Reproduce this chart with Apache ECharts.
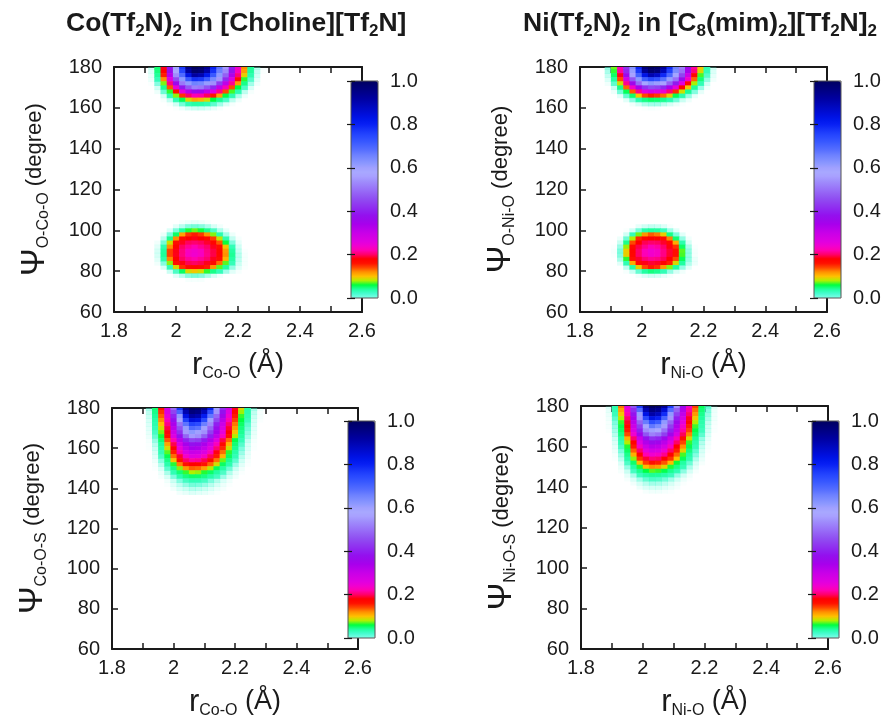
<!DOCTYPE html>
<html><head><meta charset="utf-8">
<script src="https://cdn.jsdelivr.net/npm/echarts@6/dist/echarts.min.js"></script>
<style>html,body{margin:0;padding:0;background:#fff}#c{width:890px;height:720px}</style>
</head><body><div id="c"></div>
<script>
// ---- axis ticks ----
const xTicks = [1.8, 2.0, 2.2, 2.4, 2.6];
const yTicks = [60, 80, 100, 120, 140, 160, 180];
const cbTicks = [0.0, 0.2, 0.4, 0.6, 0.8, 1.0];
const cellDX = 0.02, cellDY = 2;

// ---- Co(Tf2N)2, O-Co-O : peak at 180 deg (columns from x0 step 0.02, rows from y0 step -2)
const coOO_peak180 = { x0: 1.90, y0: 180, rows: [
[0,0.008,0.05,0.185,0.385,0.595,0.77,0.95,1.0,0.99,0.94,0.8,0.675,0.55,0.395,0.235,0.122,0.043,0.012,0.001,0],
[0,0.007,0.047,0.177,0.367,0.58,0.75,0.92,0.985,0.975,0.91,0.78,0.66,0.53,0.38,0.228,0.115,0.041,0.011,0.001,0],
[0,0.005,0.041,0.155,0.32,0.535,0.69,0.83,0.92,0.9,0.82,0.72,0.62,0.48,0.33,0.205,0.094,0.034,0.009,0,0],
[0,0.004,0.03,0.12,0.26,0.455,0.62,0.72,0.78,0.77,0.715,0.645,0.545,0.415,0.27,0.163,0.065,0.026,0.006,0,0],
[0,0.001,0.02,0.074,0.208,0.36,0.51,0.615,0.655,0.645,0.61,0.54,0.435,0.31,0.213,0.115,0.045,0.016,0.003,0,0],
[0,0,0.009,0.043,0.137,0.25,0.39,0.47,0.52,0.51,0.465,0.41,0.305,0.225,0.14,0.06,0.027,0.007,0,0,0],
[0,0,0.004,0.023,0.065,0.163,0.25,0.32,0.365,0.355,0.31,0.26,0.21,0.14,0.068,0.033,0.012,0.002,0,0,0],
[0,0,0,0.008,0.032,0.076,0.147,0.2,0.222,0.217,0.198,0.158,0.112,0.059,0.033,0.015,0.004,0,0,0,0],
[0,0,0,0.002,0.011,0.032,0.056,0.09,0.11,0.105,0.088,0.06,0.043,0.027,0.012,0.004,0,0,0,0,0],
[0,0,0,0,0.002,0.009,0.022,0.032,0.038,0.037,0.032,0.025,0.016,0.007,0.002,0,0,0,0,0,0],
[0,0,0,0,0,0.001,0.004,0.008,0.01,0.01,0.008,0.005,0.002,0,0,0,0,0,0,0,0]
]};
// ---- Co(Tf2N)2, O-Co-O : peak near 90 deg
const coOO_peak90 = { x0: 1.92, y0: 104, rows: [
[0,0,0,0,0,0.002,0.004,0.005,0.004,0.002,0,0,0,0,0,0,0],
[0,0,0,0,0.006,0.013,0.02,0.022,0.02,0.015,0.008,0.003,0,0,0,0,0],
[0,0,0,0.007,0.021,0.04,0.063,0.072,0.062,0.043,0.027,0.014,0.005,0,0,0,0],
[0,0,0.004,0.021,0.052,0.112,0.147,0.156,0.146,0.119,0.075,0.035,0.016,0.004,0,0,0],
[0,0,0.012,0.043,0.12,0.167,0.18,0.184,0.18,0.17,0.145,0.085,0.033,0.011,0.002,0,0],
[0,0.003,0.022,0.086,0.165,0.186,0.198,0.202,0.198,0.189,0.174,0.136,0.061,0.021,0.005,0,0],
[0,0.006,0.033,0.12,0.178,0.199,0.213,0.222,0.212,0.201,0.186,0.165,0.097,0.031,0.009,0,0],
[0,0.008,0.04,0.143,0.184,0.206,0.23,0.237,0.23,0.208,0.193,0.172,0.116,0.039,0.011,0.001,0],
[0,0.008,0.041,0.143,0.185,0.207,0.232,0.239,0.231,0.21,0.194,0.173,0.119,0.042,0.013,0.002,0],
[0,0.006,0.034,0.123,0.178,0.199,0.214,0.22,0.213,0.202,0.186,0.165,0.105,0.038,0.012,0.002,0],
[0,0.003,0.02,0.076,0.161,0.183,0.196,0.199,0.195,0.185,0.17,0.13,0.07,0.03,0.01,0.002,0],
[0,0,0.008,0.031,0.09,0.151,0.17,0.173,0.169,0.157,0.118,0.07,0.04,0.018,0.006,0.001,0],
[0,0,0,0.01,0.027,0.053,0.09,0.097,0.088,0.065,0.045,0.03,0.016,0.006,0.002,0,0],
[0,0,0,0,0.006,0.013,0.02,0.022,0.02,0.015,0.008,0.003,0,0,0,0,0],
[0,0,0,0,0,0,0.002,0.002,0.002,0,0,0,0,0,0,0,0]
]};
// ---- Ni(Tf2N)2, O-Ni-O : peak at 180 deg
const niOO_peak180 = { x0: 1.87, y0: 180, rows: [
[0,0.017,0.073,0.223,0.425,0.63,0.795,0.965,1.0,0.987,0.925,0.785,0.655,0.515,0.355,0.215,0.098,0.033,0.008,0,0],
[0,0.015,0.065,0.215,0.41,0.61,0.77,0.935,0.982,0.97,0.89,0.76,0.64,0.5,0.34,0.205,0.09,0.031,0.007,0,0],
[0,0.011,0.052,0.185,0.36,0.56,0.705,0.83,0.9,0.87,0.79,0.695,0.59,0.445,0.29,0.172,0.068,0.026,0.005,0,0],
[0,0.007,0.04,0.14,0.28,0.465,0.62,0.71,0.75,0.73,0.68,0.61,0.5,0.37,0.237,0.133,0.049,0.018,0.003,0,0],
[0,0.003,0.025,0.087,0.212,0.355,0.49,0.585,0.62,0.605,0.563,0.48,0.39,0.26,0.17,0.079,0.032,0.009,0,0,0],
[0,0,0.011,0.045,0.132,0.236,0.342,0.425,0.455,0.445,0.41,0.335,0.25,0.175,0.097,0.042,0.017,0.003,0,0,0],
[0,0,0.004,0.022,0.056,0.136,0.21,0.256,0.28,0.27,0.246,0.205,0.15,0.087,0.043,0.02,0.005,0,0,0,0],
[0,0,0,0.006,0.024,0.051,0.098,0.14,0.155,0.147,0.13,0.094,0.056,0.035,0.018,0.005,0,0,0,0,0],
[0,0,0,0,0.006,0.019,0.034,0.046,0.052,0.05,0.044,0.033,0.022,0.01,0.004,0,0,0,0,0,0],
[0,0,0,0,0,0.003,0.008,0.014,0.016,0.016,0.012,0.008,0.004,0.001,0,0,0,0,0,0,0],
[0,0,0,0,0,0,0,0.001,0.002,0.001,0,0,0,0,0,0,0,0,0,0,0]
]};
// ---- Ni(Tf2N)2, O-Ni-O : peak near 90 deg
const niOO_peak90 = { x0: 1.89, y0: 102, rows: [
[0,0,0,0,0,0.005,0.009,0.011,0.01,0.007,0.002,0,0,0,0,0,0],
[0,0,0,0.001,0.009,0.022,0.036,0.041,0.039,0.029,0.016,0.006,0,0,0,0,0],
[0,0,0,0.009,0.03,0.073,0.118,0.135,0.126,0.095,0.046,0.021,0.006,0,0,0,0],
[0,0,0.004,0.023,0.08,0.153,0.174,0.18,0.177,0.167,0.123,0.05,0.018,0.003,0,0,0],
[0,0,0.01,0.044,0.14,0.18,0.196,0.201,0.199,0.188,0.169,0.109,0.034,0.008,0,0,0],
[0,0.001,0.017,0.077,0.167,0.194,0.21,0.224,0.216,0.201,0.183,0.148,0.052,0.015,0.001,0,0],
[0,0.002,0.021,0.096,0.174,0.2,0.226,0.239,0.232,0.208,0.19,0.162,0.07,0.018,0.002,0,0],
[0,0.001,0.02,0.094,0.173,0.2,0.224,0.237,0.231,0.208,0.189,0.162,0.068,0.018,0.002,0,0],
[0,0,0.015,0.065,0.163,0.189,0.204,0.212,0.208,0.197,0.179,0.14,0.055,0.018,0.004,0,0],
[0,0,0.006,0.032,0.109,0.168,0.184,0.19,0.187,0.177,0.155,0.09,0.04,0.014,0.004,0,0],
[0,0,0,0.012,0.038,0.095,0.141,0.158,0.149,0.118,0.075,0.04,0.018,0.006,0,0,0],
[0,0,0,0.002,0.01,0.024,0.039,0.047,0.043,0.031,0.018,0.008,0.003,0,0,0,0],
[0,0,0,0,0,0.003,0.007,0.009,0.008,0.005,0.002,0,0,0,0,0,0]
]};
// ---- Co(Tf2N)2, Co-O-S
const coOS_peak = { x0: 1.90, y0: 180, rows: [
[0.001,0.014,0.05,0.16,0.29,0.49,0.775,0.955,1.0,0.99,0.945,0.81,0.6,0.415,0.285,0.185,0.092,0.038,0.014,0.003,0],
[0,0.012,0.045,0.147,0.27,0.445,0.7,0.9,0.965,0.952,0.885,0.735,0.545,0.38,0.26,0.17,0.078,0.035,0.012,0.002,0],
[0,0.01,0.041,0.134,0.248,0.405,0.615,0.835,0.915,0.9,0.81,0.67,0.49,0.35,0.24,0.156,0.066,0.032,0.01,0.002,0],
[0,0.008,0.037,0.12,0.23,0.375,0.57,0.76,0.845,0.83,0.745,0.6,0.45,0.32,0.222,0.143,0.06,0.029,0.008,0.001,0],
[0,0.007,0.034,0.1,0.21,0.335,0.5,0.675,0.755,0.74,0.66,0.53,0.4,0.295,0.203,0.127,0.052,0.025,0.007,0,0],
[0,0.006,0.03,0.087,0.195,0.315,0.46,0.61,0.69,0.675,0.595,0.485,0.37,0.275,0.19,0.115,0.047,0.022,0.006,0,0],
[0,0.005,0.028,0.073,0.183,0.29,0.42,0.55,0.62,0.6,0.54,0.44,0.34,0.252,0.177,0.098,0.043,0.019,0.005,0,0],
[0,0.004,0.024,0.062,0.165,0.265,0.375,0.485,0.55,0.535,0.475,0.395,0.31,0.23,0.16,0.08,0.038,0.016,0.004,0,0],
[0,0.002,0.018,0.05,0.137,0.222,0.317,0.4,0.445,0.435,0.39,0.33,0.262,0.195,0.13,0.058,0.031,0.011,0.002,0,0],
[0,0.001,0.013,0.041,0.112,0.195,0.277,0.342,0.38,0.37,0.335,0.29,0.228,0.17,0.105,0.049,0.026,0.008,0.001,0,0],
[0,0.001,0.01,0.036,0.09,0.178,0.247,0.31,0.34,0.332,0.305,0.26,0.205,0.152,0.085,0.043,0.021,0.007,0.001,0,0],
[0,0,0.008,0.031,0.07,0.155,0.218,0.273,0.3,0.294,0.268,0.227,0.183,0.13,0.065,0.037,0.017,0.005,0,0,0],
[0,0,0.006,0.027,0.056,0.13,0.19,0.235,0.26,0.255,0.232,0.198,0.157,0.105,0.054,0.031,0.013,0.004,0,0,0],
[0,0,0.004,0.019,0.045,0.097,0.16,0.2,0.217,0.213,0.196,0.168,0.128,0.072,0.043,0.025,0.009,0.002,0,0,0],
[0,0,0.002,0.013,0.035,0.064,0.125,0.162,0.18,0.176,0.159,0.132,0.088,0.053,0.034,0.017,0.006,0.001,0,0,0],
[0,0,0.001,0.007,0.025,0.045,0.075,0.117,0.134,0.13,0.113,0.082,0.055,0.038,0.023,0.01,0.003,0,0,0,0],
[0,0,0,0.004,0.015,0.032,0.049,0.066,0.08,0.077,0.064,0.052,0.039,0.027,0.014,0.005,0.001,0,0,0,0],
[0,0,0,0.002,0.008,0.021,0.035,0.047,0.052,0.051,0.046,0.037,0.028,0.017,0.008,0.003,0,0,0,0,0],
[0,0,0,0,0.003,0.01,0.02,0.028,0.032,0.031,0.028,0.021,0.014,0.007,0.003,0,0,0,0,0,0],
[0,0,0,0,0.001,0.006,0.012,0.018,0.022,0.021,0.018,0.013,0.008,0.004,0.001,0,0,0,0,0,0],
[0,0,0,0,0,0.003,0.007,0.01,0.013,0.012,0.01,0.007,0.004,0.002,0,0,0,0,0,0,0],
[0,0,0,0,0,0,0.003,0.005,0.007,0.006,0.005,0.003,0.001,0,0,0,0,0,0,0,0]
]};
// ---- Ni(Tf2N)2, Ni-O-S
const niOS_peak = { x0: 1.87, y0: 180, rows: [
[0,0.006,0.035,0.128,0.262,0.46,0.765,0.958,1.0,0.987,0.93,0.765,0.54,0.36,0.237,0.144,0.055,0.024,0.005,0,0],
[0,0.005,0.032,0.112,0.24,0.415,0.685,0.9,0.96,0.942,0.855,0.685,0.482,0.33,0.216,0.129,0.049,0.02,0.004,0,0],
[0,0.004,0.029,0.097,0.222,0.382,0.61,0.83,0.91,0.882,0.785,0.615,0.44,0.307,0.202,0.116,0.044,0.018,0.003,0,0],
[0,0.003,0.025,0.08,0.203,0.345,0.545,0.745,0.83,0.8,0.7,0.548,0.397,0.281,0.187,0.097,0.04,0.015,0.003,0,0],
[0,0.002,0.021,0.066,0.188,0.315,0.482,0.665,0.74,0.715,0.615,0.485,0.357,0.254,0.17,0.08,0.035,0.012,0.002,0,0],
[0,0.002,0.018,0.057,0.173,0.292,0.435,0.585,0.67,0.64,0.555,0.437,0.327,0.233,0.154,0.067,0.032,0.01,0.001,0,0],
[0,0.001,0.016,0.053,0.158,0.27,0.4,0.535,0.6,0.575,0.5,0.4,0.307,0.217,0.142,0.059,0.029,0.009,0.001,0,0],
[0,0,0.013,0.046,0.14,0.24,0.353,0.465,0.52,0.5,0.437,0.355,0.274,0.197,0.123,0.051,0.025,0.007,0,0,0],
[0,0,0.009,0.037,0.108,0.201,0.297,0.38,0.42,0.405,0.358,0.298,0.227,0.164,0.088,0.041,0.018,0.005,0,0,0],
[0,0,0.007,0.031,0.082,0.179,0.26,0.328,0.36,0.348,0.315,0.261,0.2,0.142,0.066,0.035,0.014,0.003,0,0,0],
[0,0,0.005,0.027,0.064,0.157,0.229,0.293,0.32,0.31,0.279,0.23,0.18,0.12,0.056,0.03,0.011,0.002,0,0,0],
[0,0,0.004,0.021,0.053,0.134,0.2,0.254,0.28,0.271,0.241,0.201,0.155,0.093,0.047,0.025,0.008,0.001,0,0,0],
[0,0,0.002,0.016,0.044,0.108,0.177,0.22,0.24,0.233,0.21,0.178,0.131,0.068,0.039,0.02,0.006,0,0,0,0],
[0,0,0.001,0.012,0.036,0.076,0.147,0.19,0.205,0.2,0.181,0.148,0.1,0.055,0.032,0.014,0.004,0,0,0,0],
[0,0,0,0.007,0.027,0.051,0.102,0.145,0.16,0.155,0.137,0.103,0.061,0.039,0.023,0.008,0.002,0,0,0,0],
[0,0,0,0.004,0.018,0.038,0.064,0.103,0.12,0.114,0.092,0.064,0.045,0.03,0.015,0.005,0,0,0,0,0],
[0,0,0,0.002,0.01,0.028,0.044,0.06,0.07,0.066,0.057,0.044,0.032,0.019,0.008,0.002,0,0,0,0,0],
[0,0,0,0,0.005,0.015,0.029,0.038,0.042,0.041,0.036,0.029,0.018,0.009,0.003,0,0,0,0,0,0],
[0,0,0,0,0.002,0.007,0.016,0.024,0.027,0.026,0.022,0.016,0.009,0.004,0.001,0,0,0,0,0,0],
[0,0,0,0,0,0.003,0.008,0.013,0.016,0.015,0.012,0.008,0.004,0.001,0,0,0,0,0,0,0],
[0,0,0,0,0,0,0.004,0.007,0.008,0.008,0.006,0.004,0.002,0,0,0,0,0,0,0,0],
[0,0,0,0,0,0,0,0.002,0.003,0.003,0.002,0.001,0,0,0,0,0,0,0,0,0]
]};

// ---- colour map (evenly spaced from 0 to 1) ----
const cmap = ['#80ffe8','#48fcd0','#20ffa0','#00ff40','#b0f000','#ffc000','#ff9000','#ff4800','#ff1000','#ff0000',
'#ff0068','#ff00b0','#f000d0','#e000e0','#d400e4','#c800e8','#b800ea','#a800ec','#9c08ec','#9410ee',
'#9020f0','#9030f0','#9040f0','#9050f2','#9460f4','#9870f8','#9c80fa','#a090fc','#a8a0ff','#a8a8ff',
'#a0a0ff','#8c98ff','#7c8cff','#6c80ff','#5870ff','#4864ff','#3858ff','#2c4cff','#2040fc','#1430f8',
'#0820f4','#0018ec','#0010e0','#000cd0','#0008c0','#0004b0','#0000a0','#000090','#000080','#000070','#000060'];

const FONT = '"Liberation Sans", Arial, sans-serif';
const INK = '#1a1a1a';

function blockToData(b) {
  const out = [];
  b.rows.forEach((row, r) => {
    row.forEach((v, c) => {
      if (v > 0) out.push([+(b.x0 + c * cellDX).toFixed(3), b.y0 - r * cellDY, v]);
    });
  });
  return out;
}

const panels = [
  { grid: {left: 114, top: 67, width: 248, height: 245}, cb: {left: 351, top: 81, width: 27, height: 217},
    blocks: [coOO_peak180, coOO_peak90], xSub: 'Co-O', ySub: 'O-Co-O' },
  { grid: {left: 580, top: 67, width: 247, height: 245}, cb: {left: 814, top: 81, width: 27, height: 217},
    blocks: [niOO_peak180, niOO_peak90], xSub: 'Ni-O', ySub: 'O-Ni-O' },
  { grid: {left: 112, top: 408, width: 246, height: 245}, cb: {left: 348, top: 421, width: 27, height: 217},
    blocks: [coOS_peak], xSub: 'Co-O', ySub: 'Co-O-S' },
  { grid: {left: 581, top: 406, width: 247, height: 246}, cb: {left: 812, top: 421, width: 27, height: 217},
    blocks: [niOS_peak], xSub: 'Ni-O', ySub: 'Ni-O-S' }
];

const grid = [], xAxis = [], yAxis = [], series = [], visualMap = [];
const tickLine = {color: INK, width: 1.5};
const xRich = { r: {fontSize: 31, lineHeight: 34, color: INK, fontFamily: FONT},
  m: {fontSize: 27, lineHeight: 34, color: INK, fontFamily: FONT},
  s: {fontSize: 16, lineHeight: 16, verticalAlign: 'bottom', color: INK, fontFamily: FONT} };
const yRich = { p: {fontSize: 33, lineHeight: 34, color: INK, fontFamily: FONT},
  d: {fontSize: 22, lineHeight: 34, color: INK, fontFamily: FONT},
  s: {fontSize: 16, lineHeight: 16, verticalAlign: 'bottom', color: INK, fontFamily: FONT} };
const fmtX = v => String(Math.round(v * 10) / 10);

panels.forEach((p, i) => {
  const g = grid.length;
  grid.push(Object.assign({containLabel: false}, p.grid));
  const xb = xAxis.length;
  xAxis.push({ gridIndex: g, type: 'value', position: 'bottom', min: xTicks[0], max: xTicks[xTicks.length-1],
    interval: xTicks[1] - xTicks[0],
    axisLine: {onZero: false, lineStyle: {color: INK, width: 2}},
    axisTick: {inside: true, length: 6, lineStyle: tickLine},
    minorTick: {show: true, splitNumber: 2, length: 6, lineStyle: tickLine},
    splitLine: {show: false},
    axisLabel: {fontSize: 20, margin: 9, color: INK, fontFamily: FONT, formatter: fmtX},
    name: '{r|r}{s|' + p.xSub + '}{m| (Å)}', nameLocation: 'middle', nameGap: 36,
    nameTextStyle: {rich: xRich} });
  xAxis.push({ gridIndex: g, type: 'value', position: 'top', min: xTicks[0], max: xTicks[xTicks.length-1],
    interval: xTicks[1] - xTicks[0],
    axisLine: {onZero: false, lineStyle: {color: INK, width: 2}},
    axisTick: {inside: true, length: 6, lineStyle: tickLine},
    minorTick: {show: true, splitNumber: 2, length: 6, lineStyle: tickLine},
    splitLine: {show: false}, axisLabel: {show: false} });
  const yl = yAxis.length;
  yAxis.push({ gridIndex: g, type: 'value', position: 'left', min: yTicks[0], max: yTicks[yTicks.length-1],
    interval: yTicks[1] - yTicks[0],
    axisLine: {onZero: false, lineStyle: {color: INK, width: 2}},
    axisTick: {inside: true, length: 6, lineStyle: tickLine},
    splitLine: {show: false},
    axisLabel: {fontSize: 20, margin: 12, color: INK, fontFamily: FONT},
    name: '{p|Ψ}{s|' + p.ySub + '}{d| (degree)}', nameLocation: 'middle', nameRotate: 90, nameGap: 62,
    nameTextStyle: {rich: yRich} });
  yAxis.push({ gridIndex: g, type: 'value', position: 'right', min: yTicks[0], max: yTicks[yTicks.length-1],
    interval: yTicks[1] - yTicks[0],
    axisLine: {onZero: false, lineStyle: {color: INK, width: 2}},
    axisTick: {inside: true, length: 6, lineStyle: tickLine},
    splitLine: {show: false}, axisLabel: {show: false} });

  // colour bar frame + ticks
  const gc = grid.length;
  grid.push(Object.assign({show: true, borderColor: '#555', borderWidth: 1, backgroundColor: 'transparent', z: 6}, p.cb));
  xAxis.push({ gridIndex: gc, type: 'value', show: false, min: 0, max: 1 });
  yAxis.push({ gridIndex: gc, type: 'value', position: 'right', min: cbTicks[0], max: cbTicks[cbTicks.length-1],
    interval: cbTicks[1] - cbTicks[0], z: 6,
    axisLine: {show: false}, splitLine: {show: false},
    axisTick: {inside: true, length: 4, lineStyle: {color: INK, width: 1.2}},
    axisLabel: {fontSize: 20, margin: 12, color: INK, fontFamily: FONT, formatter: v => v.toFixed(1)} });
  yAxis.push({ gridIndex: gc, type: 'value', position: 'left', min: cbTicks[0], max: cbTicks[cbTicks.length-1],
    interval: cbTicks[1] - cbTicks[0], z: 6,
    axisLine: {show: false}, splitLine: {show: false},
    axisTick: {inside: true, length: 4, lineStyle: {color: INK, width: 1.2}},
    axisLabel: {show: false} });

  const data = [];
  p.blocks.forEach(b => data.push(...blockToData(b)));
  series.push({
    type: 'custom', xAxisIndex: xb, yAxisIndex: yl, clip: true,
    encode: {x: 0, y: 1}, data: data,
    renderItem: (params, api) => {
      const x = api.value(0), y = api.value(1), v = api.value(2);
      const a = api.coord([x - cellDX / 2, y + cellDY / 2]);
      const b = api.coord([x + cellDX / 2, y - cellDY / 2]);
      return { type: 'rect',
        shape: {x: a[0], y: a[1], width: b[0] - a[0] + 0.6, height: b[1] - a[1] + 0.6},
        style: {fill: api.visual('color'), opacity: Math.min(1, v / 0.03)} };
    }
  });
  visualMap.push({ type: 'continuous', seriesIndex: i, dimension: 2, min: 0, max: 1,
    left: p.cb.left, top: p.cb.top, itemWidth: p.cb.width, itemHeight: p.cb.height,
    calculable: false, realtime: false, hoverLink: false, padding: 0, inRange: {color: cmap} });
});

const tRich = { b: {fontSize: 26.5, fontWeight: 'bold', lineHeight: 32, color: INK, fontFamily: FONT},
  s: {fontSize: 17, fontWeight: 'bold', lineHeight: 17, verticalAlign: 'bottom', color: INK, fontFamily: FONT} };

const option = {
  animation: false,
  backgroundColor: '#fff',
  textStyle: {fontFamily: FONT},
  title: [
    { text: '{b|Co(Tf}{s|2}{b|N)}{s|2}{b| in [Choline][Tf}{s|2}{b|N]}', left: 66, top: 8, padding: 0, textStyle: {rich: tRich} },
    { text: '{b|Ni(Tf}{s|2}{b|N)}{s|2}{b| in [C}{s|8}{b|(mim)}{s|2}{b|][Tf}{s|2}{b|N]}{s|2}', left: 523, top: 8, padding: 0, textStyle: {rich: tRich} }
  ],
  grid, xAxis, yAxis, series, visualMap
};
const chart = echarts.init(document.getElementById('c'), null, {renderer: 'canvas'});
chart.setOption(option);
</script></body></html>
